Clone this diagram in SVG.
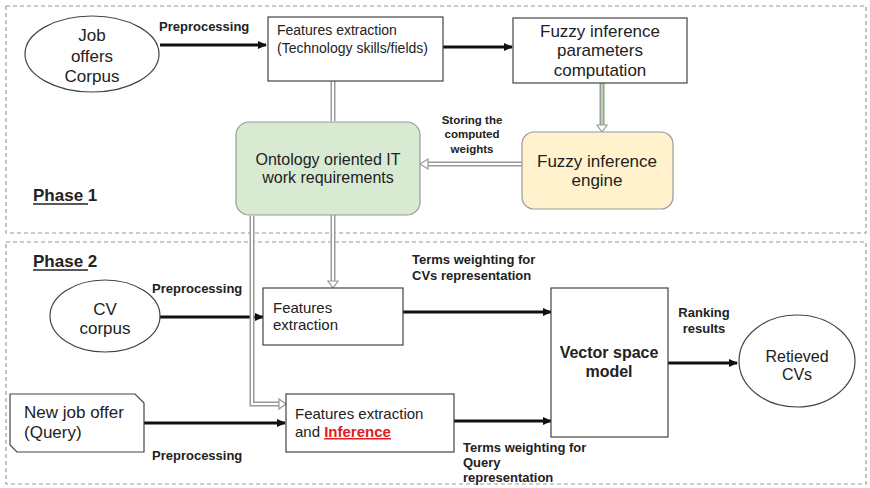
<svg xmlns="http://www.w3.org/2000/svg" width="870" height="488" viewBox="0 0 870 488">
<defs>
<style>
text{font-family:"Liberation Sans",Arial,sans-serif;fill:#222}
.t17{font-size:17px}
.t16{font-size:16px}
.t15{font-size:15px}
.t14{font-size:14px}
.b13{font-size:13px;font-weight:bold}
.b11{font-size:11.5px;font-weight:bold}
.ph{font-size:17px;font-weight:bold}
.phase{fill:none;stroke:#9a9a9a;stroke-width:1.2;stroke-dasharray:4 3}
.box{fill:#fff;stroke:#444;stroke-width:1.2}
.blk{fill:none;stroke:#111;stroke-width:3;marker-end:url(#ah)}
.pipeO{fill:none;stroke:#9a9a9a;stroke-width:5}
.pipeI{fill:none;stroke:#fff;stroke-width:2}
.hh{fill:#fff;stroke:#9a9a9a;stroke-width:1.2}
</style>
<marker id="ah" markerUnits="userSpaceOnUse" markerWidth="9" markerHeight="9" refX="8" refY="4.5" orient="auto">
<path d="M0,0.5 L9,4.5 L0,8.5 Z" fill="#111"/>
</marker>
</defs>

<g id="phase1">
<rect class="phase" x="6" y="6" width="860" height="227"/>
<text class="ph" x="33" y="201">Phase 1</text>
<line x1="33" y1="204" x2="88" y2="204" stroke="#222" stroke-width="1.4"/>
</g>
<g id="phase2">
<rect class="phase" x="6" y="242" width="860" height="242"/>
<text class="ph" x="33" y="267">Phase 2</text>
<line x1="33" y1="270" x2="88" y2="270" stroke="#222" stroke-width="1.4"/>
</g>

<g id="connectors">
<!-- black arrows -->
<line class="blk" x1="160" y1="45" x2="266" y2="45"/>
<line class="blk" x1="443" y1="47" x2="512" y2="47"/>
<line class="blk" x1="160" y1="317" x2="263" y2="317"/>
<line class="blk" x1="403" y1="312" x2="551" y2="312"/>
<line class="blk" x1="144" y1="423" x2="285" y2="423"/>
<line class="blk" x1="454" y1="421" x2="551" y2="421"/>
<line class="blk" x1="668" y1="363" x2="737" y2="363"/>
<!-- hollow pipes -->
<path class="pipeO" d="M333,81 V121"/>
<path class="pipeI" d="M333,81 V121"/>
<path class="pipeO" d="M602,83 V125"/>
<path d="M602,83 V125" fill="none" stroke="#b6d7a8" stroke-width="2"/>
<polygon class="hh" points="597,125 607,125 602,132"/>
<path class="pipeO" d="M522,164 H428"/>
<path class="pipeI" d="M522,164 H428"/>
<polygon class="hh" points="428,159 428,169 420,164"/>
<path class="pipeO" d="M333,215 V281"/>
<path class="pipeI" d="M333,215 V281"/>
<polygon class="hh" points="328,281 338,281 333,288"/>
<path class="pipeO" d="M252,216 V404 H279"/>
<path class="pipeI" d="M252,216 V404 H279"/>
<polygon class="hh" points="279,399 279,409 286,404"/>
<!-- labels -->
<text class="b13" x="159" y="31">Preprocessing</text>
<text class="b11" x="472" y="124" text-anchor="middle">Storing the</text>
<text class="b11" x="472" y="138" text-anchor="middle">computed</text>
<text class="b11" x="472" y="153" text-anchor="middle">weights</text>
<text class="b13" x="152" y="293">Preprocessing</text>
<text class="b13" x="412" y="264">Terms weighting for</text>
<text class="b13" x="412" y="280">CVs representation</text>
<text class="b13" x="152" y="460">Preprocessing</text>
<text class="b13" x="463" y="452">Terms weighting for</text>
<text class="b13" x="463" y="467">Query</text>
<text class="b13" x="463" y="482">representation</text>
<text class="b13" x="704" y="317" text-anchor="middle">Ranking</text>
<text class="b13" x="704" y="333" text-anchor="middle">results</text>
</g>

<g id="job-offers-corpus">
<ellipse cx="92" cy="54" rx="67" ry="38" fill="#fff" stroke="#444" stroke-width="1.2"/>
<text class="t17" x="92" y="41" text-anchor="middle">Job</text>
<text class="t17" x="92" y="62" text-anchor="middle">offers</text>
<text class="t17" x="92" y="82" text-anchor="middle">Corpus</text>
</g>

<g id="features-extraction-1">
<rect class="box" x="268" y="17" width="175" height="64"/>
<text class="t14" x="277" y="35">Features extraction</text>
<text class="t14" x="277" y="53">(Technology skills/fields)</text>
</g>

<g id="fuzzy-params">
<rect class="box" x="513" y="18" width="174" height="65"/>
<text class="t17" x="600" y="37" text-anchor="middle">Fuzzy inference</text>
<text class="t17" x="600" y="56" text-anchor="middle">parameters</text>
<text class="t17" x="600" y="76" text-anchor="middle">computation</text>
</g>

<g id="ontology">
<rect x="236" y="122" width="184" height="93" rx="13" fill="#d9ead3" stroke="#9a9a9a" stroke-width="1.2"/>
<text class="t16" x="328" y="165" text-anchor="middle">Ontology oriented IT</text>
<text class="t16" x="328" y="183" text-anchor="middle">work requirements</text>
</g>

<g id="fuzzy-engine">
<rect x="522" y="132" width="151" height="77" rx="12" fill="#fff2cc" stroke="#9a9a9a" stroke-width="1.2"/>
<text class="t17" x="597" y="167" text-anchor="middle">Fuzzy inference</text>
<text class="t17" x="597" y="186" text-anchor="middle">engine</text>
</g>

<g id="cv-corpus">
<ellipse cx="105" cy="316" rx="55" ry="36" fill="#fff" stroke="#444" stroke-width="1.2"/>
<text class="t17" x="105" y="315" text-anchor="middle">CV</text>
<text class="t17" x="105" y="334" text-anchor="middle">corpus</text>
</g>

<g id="features-extraction-2">
<rect class="box" x="263" y="288" width="140" height="57"/>
<text class="t15" x="273" y="313">Features</text>
<text class="t15" x="273" y="330">extraction</text>
</g>

<g id="new-job-offer">
<polygon points="10,394 135,394 144,403 144,452 17,452 10,445" fill="#fff" stroke="#444" stroke-width="1.2"/>
<text class="t17" x="24" y="418">New job offer</text>
<text class="t17" x="24" y="438">(Query)</text>
</g>

<g id="features-inference">
<rect class="box" x="286" y="394" width="168" height="58"/>
<text class="t15" x="295" y="419">Features extraction</text>
<text class="t15" x="295" y="437">and <tspan style="fill:#e02020;font-weight:bold;text-decoration:underline">Inference</tspan></text>
</g>

<g id="vector-space-model">
<rect class="box" x="551" y="288" width="117" height="149"/>
<text x="609" y="358" text-anchor="middle" style="font-size:16px;font-weight:bold">Vector space</text>
<text x="609" y="377" text-anchor="middle" style="font-size:16px;font-weight:bold">model</text>
</g>

<g id="retrieved-cvs">
<ellipse cx="797" cy="361" rx="58" ry="46" fill="#fff" stroke="#444" stroke-width="1.2"/>
<text class="t16" x="797" y="362" text-anchor="middle">Retieved</text>
<text class="t16" x="797" y="380" text-anchor="middle">CVs</text>
</g>
</svg>
